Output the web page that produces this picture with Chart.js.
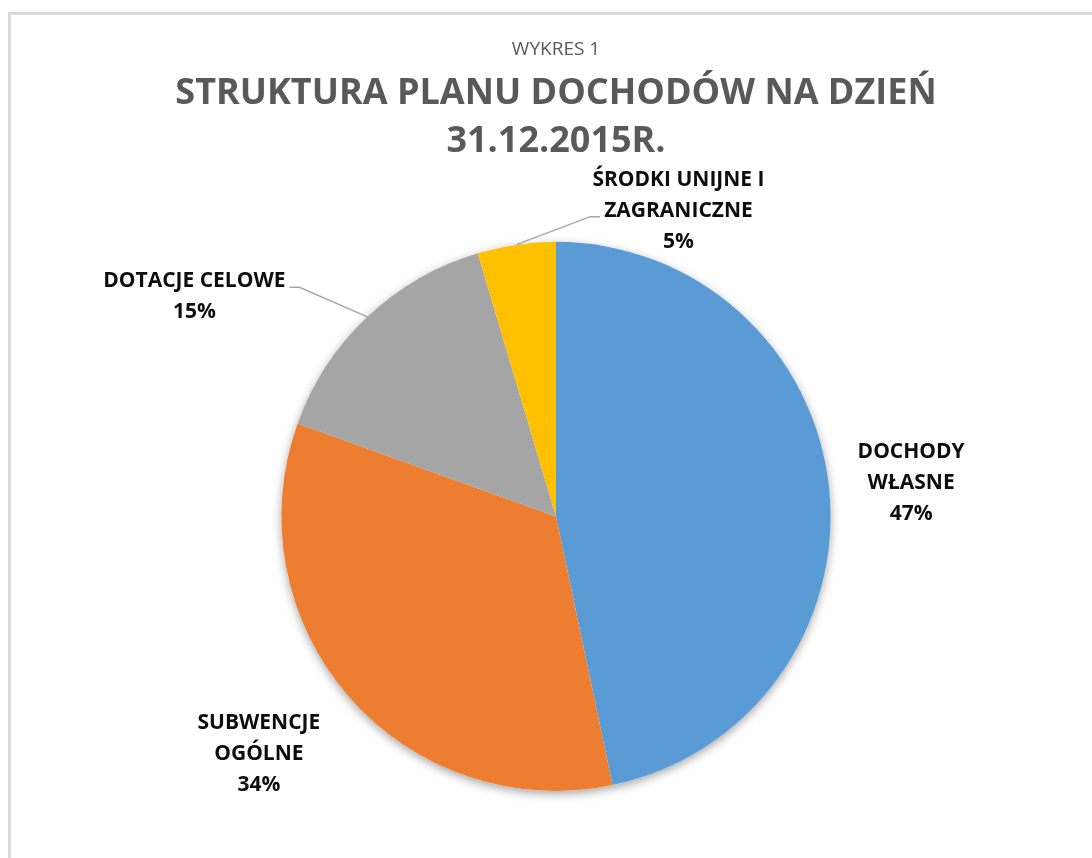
<!DOCTYPE html>
<html>
<head>
    <meta charset="utf-8">
    <title>Struktura planu dochodów</title>
    <script src="https://cdn.jsdelivr.net/npm/chart.js"></script>
    <style>
        body { margin: 0; background: #fff; overflow: hidden; }
        #frame { position: absolute; left: 8px; top: 12px; width: 1200px; height: 1000px;
                 border-left: 3px solid #d9d9d9; border-top: 3px solid #d9d9d9; }
        #myChart { position: absolute; left: 0; top: 0; }
    </style>
</head>
<body>
<div id="frame"></div>
<canvas id="myChart" width="1092" height="858"></canvas>
<script>
const categories = [['DOCHODY', 'WŁASNE'], ['SUBWENCJE', 'OGÓLNE'], ['DOTACJE CELOWE'], ['ŚRODKI UNIJNE I', 'ZAGRANICZNE']];
const shares = [46.7, 33.8, 14.9, 4.6];
const colors = ['#5B9BD5', '#ED7D31', '#A5A5A5', '#FFC000'];

// label placement relative to the outer edge of each slice
const labelOffsets = [[82, -5], [-90, 57], [-173, -20], [162, -34]];
const leaders = [null, null, { line: 0, side: 1 }, { line: 1, side: -1 }];

Chart.defaults.font.family = 'Open Sans';

// soft shadow under the whole pie
const pieShadow = {
    id: 'pieShadow',
    beforeDatasetsDraw(chart) {
        const arc = chart.getDatasetMeta(0).data[0];
        if (!arc) return;
        const ctx = chart.ctx;
        ctx.save();
        ctx.shadowColor = 'rgba(0,0,0,0.35)';
        ctx.shadowBlur = 10;
        ctx.shadowOffsetY = 3;
        ctx.fillStyle = '#fff';
        ctx.beginPath();
        ctx.arc(arc.x, arc.y, arc.outerRadius, 0, Math.PI * 2);
        ctx.fill();
        ctx.restore();
    }
};

const sliceLabels = {
    id: 'sliceLabels',
    afterDatasetsDraw(chart) {
        const ctx = chart.ctx;
        const data = chart.data.datasets[0].data;
        const total = data.reduce((a, b) => a + b, 0);
        const lh = 31;
        ctx.save();
        ctx.font = 'bold 21px "Open Sans"';
        ctx.textAlign = 'center';
        ctx.textBaseline = 'middle';
        chart.getDatasetMeta(0).data.forEach((arc, i) => {
            const mid = (arc.startAngle + arc.endAngle) / 2;
            const ex = arc.x + Math.cos(mid) * arc.outerRadius;
            const ey = arc.y + Math.sin(mid) * arc.outerRadius;
            const cx = ex + labelOffsets[i][0];
            const cy = ey + labelOffsets[i][1];
            const lines = [...chart.data.labels[i], Math.round(data[i] / total * 100) + '%'];
            const y0 = cy - (lines.length - 1) * lh / 2;

            const ld = leaders[i];
            if (ld) {
                const w = ctx.measureText(lines[ld.line]).width;
                const endX = cx + ld.side * (w / 2 + 4);
                const endY = y0 + ld.line * lh + 6;
                ctx.strokeStyle = '#a6a6a6';
                ctx.lineWidth = 1.5;
                ctx.beginPath();
                ctx.moveTo(ex, ey);
                ctx.lineTo(endX + ld.side * 10, endY);
                ctx.lineTo(endX, endY);
                ctx.stroke();
            }

            ctx.fillStyle = '#0d0d0d';
            lines.forEach((t, k) => ctx.fillText(t, cx, y0 + k * lh));
        });
        ctx.restore();
    }
};

new Chart(document.getElementById('myChart'), {
    type: 'pie',
    data: {
        labels: categories,
        datasets: [{
            data: shares,
            backgroundColor: colors,
            borderWidth: 0,
            hoverOffset: 0
        }]
    },
    options: {
        responsive: false,
        animation: false,
        layout: { padding: { top: 10, bottom: 67, left: 20, right: 0 } },
        plugins: {
            legend: { display: false },
            tooltip: { enabled: false },
            title: {
                display: true,
                text: 'WYKRES 1',
                color: '#595959',
                font: { size: 19, weight: 'normal', lineHeight: 1.2 },
                padding: { top: 28, bottom: 0 }
            },
            subtitle: {
                display: true,
                text: ['STRUKTURA PLANU DOCHODÓW NA DZIEŃ', '31.12.2015R.'],
                color: '#595959',
                font: { size: 36, weight: 'bold', lineHeight: 1.3333 },
                padding: { top: 9, bottom: 76 }
            }
        }
    },
    plugins: [pieShadow, sliceLabels]
});
</script>
</body>
</html>
